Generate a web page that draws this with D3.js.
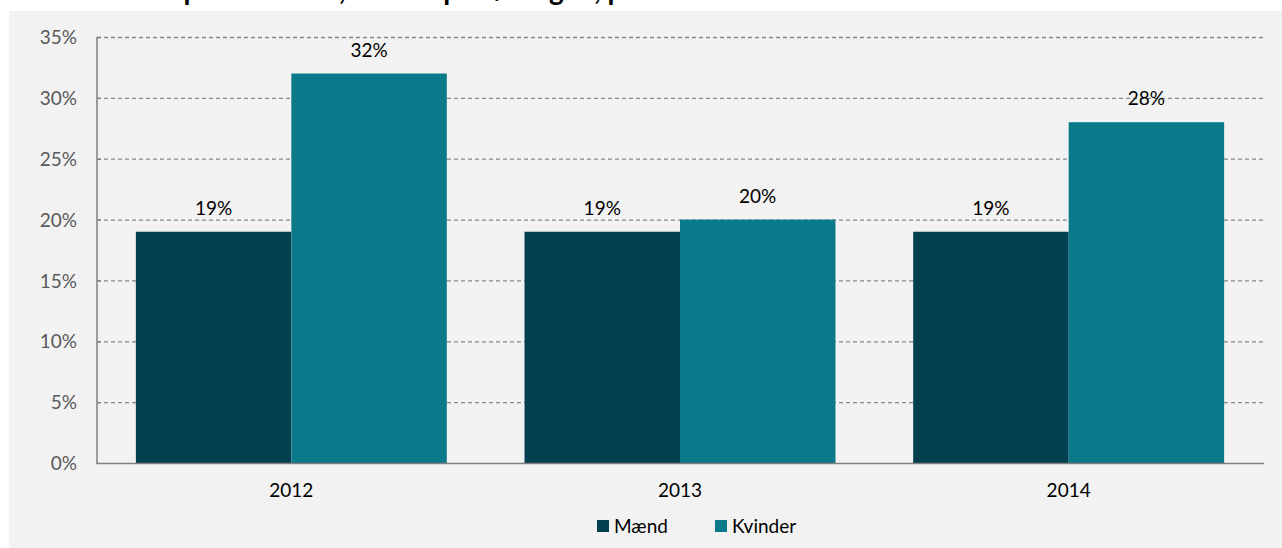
<!DOCTYPE html>
<html>
<head>
<meta charset="utf-8">
<script src="https://cdn.jsdelivr.net/npm/d3@7"></script>
<style>
  html, body { margin: 0; padding: 0; background: #ffffff; }
  svg { display: block; }
</style>
</head>
<body>
<svg id="chart" width="1282" height="548"></svg>
<script>
const categories = ["2012", "2013", "2014"];
const seriesNames = ["Mænd", "Kvinder"];
const maendValues = [19, 19, 19];
const kvinderValues = [32, 20, 28];
const yTicks = [0, 5, 10, 15, 20, 25, 30, 35];
const titleText = "Andel der oplever stress, fordelt på køn og år, pct.";

const colors = { "Mænd": "#023f4f", "Kvinder": "#0a7a8a" };
const FONT = "Lato, 'Open Sans', sans-serif";
const FS = 19;

const svg = d3.select("#chart");
const W = 1282, H = 548;

// panel background
svg.append("rect").attr("x", 9).attr("y", 11).attr("width", W - 9).attr("height", H - 11).attr("fill", "#f2f2f2");

// title (clipped at the top edge, as in the reference: only descenders show)
svg.append("text").attr("x", 40).attr("y", 0)
  .attr("font-family", FONT).attr("font-weight", "bold")
  .attr("font-size", 28).attr("fill", "#000").text(titleText);

const margin = { left: 97, right: 1263, top: 37, bottom: 463 };

const x0 = d3.scaleBand().domain(categories).range([margin.left, margin.right]).paddingInner(0.2).paddingOuter(0.1);
const x1 = d3.scaleBand().domain(seriesNames).range([0, x0.bandwidth()]);
const y = d3.scaleLinear().domain([0, 35]).range([margin.bottom, margin.top]);

// gridlines
svg.append("g").selectAll("line").data(yTicks.filter(d => d > 0)).join("line")
  .attr("x1", margin.left).attr("x2", margin.right)
  .attr("y1", d => y(d) + 0.5).attr("y2", d => y(d) + 0.5)
  .attr("stroke", "#868686").attr("stroke-width", 1.3).attr("stroke-dasharray", "4,3");

const data = categories.map((c, i) => ({ cat: c, values: [
  { key: "Mænd", value: maendValues[i] },
  { key: "Kvinder", value: kvinderValues[i] }
]}));

const groups = svg.append("g").selectAll("g").data(data).join("g")
  .attr("transform", d => `translate(${x0(d.cat)},0)`);

groups.selectAll("rect").data(d => d.values).join("rect")
  .attr("x", d => x1(d.key)).attr("width", x1.bandwidth())
  .attr("y", d => y(d.value)).attr("height", d => y(0) - y(d.value))
  .attr("fill", d => colors[d.key]);

groups.selectAll("text").data(d => d.values).join("text")
  .attr("x", d => x1(d.key) + x1.bandwidth() / 2)
  .attr("y", d => y(d.value) - 17)
  .attr("text-anchor", "middle")
  .attr("font-family", FONT).attr("font-size", FS).attr("fill", "#000")
  .text(d => d.value + "%");

// y axis
const yAxis = d3.axisLeft(y).tickValues(yTicks).tickFormat(d => d + "%").tickSize(0).tickPadding(20);
const ya = svg.append("g").attr("transform", `translate(${margin.left},0)`).call(yAxis);
ya.select(".domain").remove();
ya.selectAll("text").attr("font-family", FONT).attr("font-size", FS).attr("fill", "#595959").attr("dy", "0.35em");

// x axis
const xAxis = d3.axisBottom(x0).tickSize(0).tickPadding(21);
const xa = svg.append("g").attr("transform", `translate(0,${margin.bottom})`).call(xAxis);
xa.select(".domain").remove();
xa.selectAll("text").attr("font-family", FONT).attr("font-size", FS).attr("fill", "#000");

// axis lines
svg.append("line").attr("x1", margin.left).attr("x2", margin.left).attr("y1", margin.top).attr("y2", margin.bottom + 1)
  .attr("stroke", "#7f7f7f").attr("stroke-width", 1.5);
svg.append("line").attr("x1", margin.left - 1).attr("x2", margin.right + 1).attr("y1", margin.bottom + 0.5).attr("y2", margin.bottom + 0.5)
  .attr("stroke", "#7f7f7f").attr("stroke-width", 1.5);
svg.append("g").selectAll("line").data(yTicks.filter(d => d > 0)).join("line")
  .attr("x1", margin.left).attr("x2", margin.left + 4)
  .attr("y1", d => y(d) + 0.5).attr("y2", d => y(d) + 0.5)
  .attr("stroke", "#7f7f7f").attr("stroke-width", 1.3);

// legend
const legendItems = [{ key: "Mænd", x: 597 }, { key: "Kvinder", x: 715 }];
const lg = svg.append("g").selectAll("g").data(legendItems).join("g")
  .attr("transform", d => `translate(${d.x},520)`);
lg.append("rect").attr("width", 12).attr("height", 12).attr("fill", d => colors[d.key]);
lg.append("text").attr("x", 17).attr("y", 12.5).attr("font-family", FONT)
  .attr("font-size", FS).attr("fill", "#000").text(d => d.key);
</script>
</body>
</html>
